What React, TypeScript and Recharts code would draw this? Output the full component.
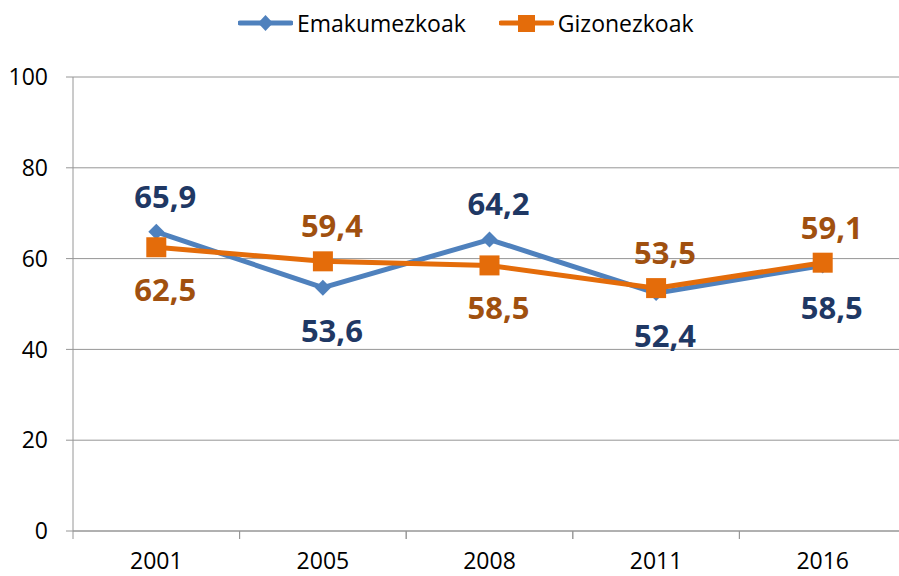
import { LineChart, Line, XAxis, YAxis, CartesianGrid, LabelList } from "recharts";

const years = ["2001", "2005", "2008", "2011", "2016"];
const emakumezkoak = [65.9, 53.6, 64.2, 52.4, 58.5];
const gizonezkoak = [62.5, 59.4, 58.5, 53.5, 59.1];
const yTicks = [0, 20, 40, 60, 80, 100];

// which side of the point each value label sits on
const womenLabelAbove = [true, false, true, false, false];
const menLabelAbove = [false, true, false, true, true];

const data = years.map((year, i) => ({
  year,
  emakumezkoak: emakumezkoak[i],
  gizonezkoak: gizonezkoak[i],
}));

const FONT = "'Open Sans', sans-serif";
const BLUE = "#4f81bd";
const ORANGE = "#e46c0a";
const BLUE_TEXT = "#1f3864";
const ORANGE_TEXT = "#a0500f";
const GRID = "#969696";

const PLOT_LEFT = 73;
const PLOT_RIGHT = 906;
const BAND = (PLOT_RIGHT - PLOT_LEFT) / years.length;

function YearTick(props: any) {
  const { x, y, payload } = props;
  return (
    <g>
      <line x1={x - BAND / 2} x2={x - BAND / 2} y1={y} y2={y + 8} stroke={GRID} strokeWidth={1} />
      <line x1={x + BAND / 2} x2={x + BAND / 2} y1={y} y2={y + 8} stroke={GRID} strokeWidth={1} />
      <text x={x} y={y + 22} dy="0.71em" textAnchor="middle" fill="#000" fontSize={23} fontFamily={FONT}>
        {payload.value}
      </text>
    </g>
  );
}

function DiamondDot(props: any) {
  const { cx, cy, index } = props;
  const r = 8;
  return (
    <path
      key={`d-${index}`}
      d={`M${cx},${cy - r} L${cx + r},${cy} L${cx},${cy + r} L${cx - r},${cy} Z`}
      fill={BLUE}
    />
  );
}

function SquareDot(props: any) {
  const { cx, cy, index } = props;
  const s = 20;
  return <rect key={`s-${index}`} x={cx - s / 2} y={cy - s / 2} width={s} height={s} fill={ORANGE} />;
}

function makeLabel(color: string, above: boolean[]) {
  return (props: any) => {
    const { x, y, value, index } = props;
    const up = above[index];
    return (
      <text
        x={x + 9}
        y={up ? y - 35 : y + 43}
        dy="0.35em"
        textAnchor="middle"
        fill={color}
        fontSize={31}
        fontWeight={700}
        fontFamily={FONT}
      >
        {String(value).replace(".", ",")}
      </text>
    );
  };
}

function LegendItem({ label, color, square }: { label: string; color: string; square: boolean }) {
  return (
    <div style={{ display: "flex", alignItems: "center" }}>
      <svg width={55} height={20}>
        <line x1={2} x2={53} y1={10} y2={10} stroke={color} strokeWidth={5} strokeLinecap="round" />
        {square ? (
          <rect x={19} y={2} width={17} height={17} fill={color} />
        ) : (
          <path d="M27.5,2 L35,10 L27.5,18 L20,10 Z" fill={color} />
        )}
      </svg>
      <span style={{ marginLeft: 4, fontSize: 23, fontFamily: FONT, color: "#000" }}>{label}</span>
    </div>
  );
}

export default function App() {
  return (
    <div
      style={{
        position: "absolute",
        left: 0,
        top: 0,
        width: 899,
        height: 576,
        overflow: "hidden",
        background: "#fff",
      }}
    >
      <div style={{ position: "absolute", left: 238, top: 7, display: "flex", gap: 33 }}>
        <LegendItem label="Emakumezkoak" color={BLUE} square={false} />
        <LegendItem label="Gizonezkoak" color={ORANGE} square={true} />
      </div>
      <LineChart width={910} height={576} data={data} margin={{ top: 77, right: 4, bottom: 0, left: 0 }}>
        <CartesianGrid vertical={false} stroke={GRID} />
        <XAxis
          dataKey="year"
          scale="band"
          height={45}
          axisLine={{ stroke: GRID }}
          tickLine={false}
          tickSize={0}
          tickMargin={0}
          interval={0}
          tick={<YearTick />}
        />
        <YAxis
          domain={[0, 100]}
          ticks={yTicks}
          interval={0}
          width={73}
          axisLine={{ stroke: GRID }}
          tickLine={{ stroke: GRID }}
          tickSize={7}
          tickMargin={18}
          tick={{ fill: "#000", fontSize: 23, fontFamily: FONT }}
        />
        <Line
          type="linear"
          dataKey="emakumezkoak"
          stroke={BLUE}
          strokeWidth={5}
          dot={DiamondDot}
          activeDot={false}
          isAnimationActive={false}
        >
          <LabelList dataKey="emakumezkoak" content={makeLabel(BLUE_TEXT, womenLabelAbove)} />
        </Line>
        <Line
          type="linear"
          dataKey="gizonezkoak"
          stroke={ORANGE}
          strokeWidth={5}
          dot={SquareDot}
          activeDot={false}
          isAnimationActive={false}
        >
          <LabelList dataKey="gizonezkoak" content={makeLabel(ORANGE_TEXT, menLabelAbove)} />
        </Line>
      </LineChart>
    </div>
  );
}
